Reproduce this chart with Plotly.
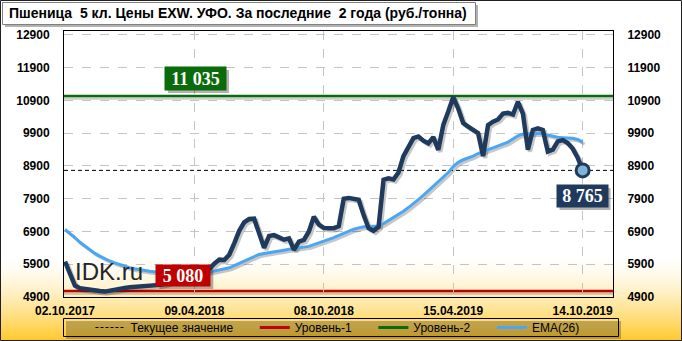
import plotly.graph_objects as go
import pandas as pd

# ---------------- data ----------------
# weekly quotes; the New-Year weeks (01.01.2018, 31.12.2018) are absent in the source
_all_weeks = pd.date_range("2017-10-02", "2019-10-14", freq="7D")
_missing = {pd.Timestamp("2018-01-01"), pd.Timestamp("2018-12-31")}
dates = [d.strftime("%d.%m.%Y") for d in _all_weeks if d not in _missing]

price = [
    5980, 5600, 5250, 5170, 5140, 5125, 5110, 5080, 5065, 5100,
    5135, 5160, 5175, 5195, 5205, 5215, 5228, 5240, 5255, 5270,
    5300, 5340, 5380, 5420, 5460, 5510, 5560, 5610, 5670, 5760,
    5920, 6040, 6030, 6190, 6540, 6920, 7180, 7280, 7290, 6860,
    6400, 6760, 6790, 6720, 6650, 6690, 6340, 6590, 6640, 6900,
    7350, 7110, 7010, 7000, 7000, 7060, 7900, 7925, 7905, 7870,
    7400, 7000, 6920, 7045, 8480, 8520, 8490, 8700, 9200, 9500,
    9750, 9800, 9670, 9590, 9780, 9390, 10150, 10560, 11000, 10650,
    10210, 10100, 9990, 9900, 9200, 10150, 10250, 10320, 10500, 10520,
    10470, 10860, 10500, 9400, 10000, 10050, 10000, 9340, 9400, 9650,
    9690, 9600, 9430, 9150, 8765,
]

ema26 = [
    6960, 6840, 6710, 6570, 6450, 6340, 6230, 6150, 6070, 6000,
    5940, 5885, 5835, 5795, 5760, 5730, 5705, 5685, 5670, 5660,
    5650, 5645, 5640, 5638, 5636, 5636, 5638, 5642, 5648, 5660,
    5690, 5720, 5740, 5790, 5860, 5930, 6010, 6080, 6150, 6200,
    6230, 6260, 6285, 6305, 6330, 6355, 6375, 6395, 6415, 6445,
    6500, 6560, 6615, 6660, 6710, 6780, 6850, 6910, 6970, 7010,
    7045, 7055, 7060, 7070, 7140, 7230, 7320, 7410, 7520, 7630,
    7740, 7870, 8000, 8140, 8280, 8400, 8540, 8700, 8880, 9010,
    9090, 9140, 9200, 9280, 9350, 9400, 9450, 9510, 9560, 9630,
    9720, 9820, 9875, 9885, 9895, 9900, 9880, 9840, 9800, 9775,
    9765, 9755, 9745, 9710, 9630,
]

x_tick_labels = ["02.10.2017", "09.04.2018", "08.10.2018", "15.04.2019", "14.10.2019"]
y_tick_values = [4900, 5900, 6900, 7900, 8900, 9900, 10900, 11900, 12900]
level_1 = 5080
level_2 = 11035
current_value = price[-1]

title_text = "Пшеница  5 кл. Цены EXW. УФО. За последние  2 года (руб./тонна)"
legend_names = ["Текущее значение", "Уровень-1", "Уровень-2", "EMA(26)"]

# ---------------- styling / geometry ----------------
W_FIG, H_FIG = 682, 341
L, R, T, B = 64, 613, 31, 297
PW, PH = R - L, B - T
Y_RANGE = [4900, 13020]
X_RANGE = [-0.2, 110.1]

NAVY = "#1F3A5C"
BLUE = "#4AA6F5"
GREEN = "#0A6B0A"
RED = "#C00000"
GRID = "#C4C4C4"
SHADOW = "rgba(0,0,0,0.22)"
FONT = "Liberation Sans"
SERIF = "Liberation Serif"
NBSP = "\u00a0"


def px(x):
    return (x - L) / PW


def py(y):
    return (B - y) / PH


def fmt(v):
    return f"{v:,}".replace(",", " ")


# shift of the shadow axes (2 px right, 2 px down)
units_per_px_x = (X_RANGE[1] - X_RANGE[0]) / PW
units_per_px_y = (Y_RANGE[1] - Y_RANGE[0]) / PH
sx = 2 * units_per_px_x
sy = 2 * units_per_px_y

fig = go.Figure()

# legend entries (base subplot x/y)
leg_styles = [
    dict(color="black", width=1, dash="3px,2px"),
    dict(color=RED, width=3),
    dict(color=GREEN, width=3),
    dict(color=BLUE, width=3),
]
for i, (name, st) in enumerate(zip(legend_names, leg_styles)):
    label = name + (NBSP * 5 if i < len(legend_names) - 1 else "")
    fig.add_trace(go.Scatter(x=[None], y=[None], mode="lines", name=label, line=st,
                             xaxis="x", yaxis="y", showlegend=True))
# right-hand axis carrier
fig.add_trace(go.Scatter(x=[None], y=[None], mode="lines", xaxis="x", yaxis="y2",
                         showlegend=False, hoverinfo="skip"))

# shadows
fig.add_trace(go.Scatter(x=dates, y=ema26, mode="lines", xaxis="x2", yaxis="y3",
                         line=dict(color=SHADOW, width=3), showlegend=False, hoverinfo="skip"))
fig.add_trace(go.Scatter(x=dates, y=price, mode="lines", xaxis="x2", yaxis="y3",
                         line=dict(color=SHADOW, width=4.5), showlegend=False, hoverinfo="skip"))
# real series
fig.add_trace(go.Scatter(x=dates, y=ema26, mode="lines", xaxis="x3", yaxis="y4",
                         line=dict(color=BLUE, width=3), showlegend=False))
fig.add_trace(go.Scatter(x=dates, y=price, mode="lines", xaxis="x3", yaxis="y4",
                         line=dict(color=NAVY, width=4.5, shape="linear"), showlegend=False))
fig.add_trace(go.Scatter(x=[dates[-1]], y=[price[-1]], mode="markers", xaxis="x3", yaxis="y4",
                         marker=dict(size=13, color="#7FB3DA", line=dict(color=NAVY, width=3)),
                         showlegend=False))

shapes = []
# background gradient (white -> golden) in the lower part
y_start, y_end = 255, H_FIG
for y in range(y_start, y_end):
    t = ((y - y_start) / (y_end - y_start)) ** 1.5
    g = round(255 - t * (255 - 200))
    b = round(255 - t * (255 - 41))
    shapes.append(dict(type="rect", xref="paper", yref="paper", layer="below",
                       x0=px(0), x1=px(W_FIG), y0=py(y + 1.05), y1=py(y),
                       fillcolor=f"rgb(255,{g},{b})", line=dict(width=0)))

# legend box + shadow
shapes.append(dict(type="rect", xref="paper", yref="paper", layer="below",
                   x0=px(66), x1=px(621), y0=py(339), y1=py(321),
                   fillcolor="rgba(0,0,0,0.25)", line=dict(width=0)))
shapes.append(dict(type="rect", xref="paper", yref="paper", layer="above",
                   x0=px(63.5), x1=px(618.5), y0=py(336.5), y1=py(318.5),
                   fillcolor="rgba(0,0,0,0)", line=dict(color="black", width=1)))

# level lines with shadows
for val, col, w in [(level_2, GREEN, 2.5), (level_1, RED, 2.5)]:
    shapes.append(dict(type="line", xref="x domain", yref="y", layer="below",
                       x0=0, x1=1, ysizemode="pixel", yanchor=val, y0=-2.5, y1=-2.5,
                       line=dict(color="rgba(0,0,0,0.2)", width=2.5)))
    shapes.append(dict(type="line", xref="x domain", yref="y", layer="below",
                       x0=0, x1=1, y0=val, y1=val, line=dict(color=col, width=w)))
shapes.append(dict(type="line", xref="x domain", yref="y", layer="below",
                   x0=0, x1=1, y0=current_value, y1=current_value,
                   line=dict(color="black", width=1, dash="4px,3px")))

# title box + shadow
shapes.append(dict(type="rect", xref="paper", yref="paper", layer="above",
                   x0=px(5), x1=px(478), y0=py(27), y1=py(5),
                   fillcolor="rgba(0,0,0,0.3)", line=dict(width=0)))
shapes.append(dict(type="rect", xref="paper", yref="paper", layer="above",
                   x0=px(2.5), x1=px(475.5), y0=py(24.5), y1=py(2.5),
                   fillcolor="white", line=dict(color="#808080", width=1)))

# outer frame
shapes.append(dict(type="rect", xref="paper", yref="paper", layer="above",
                   x0=px(0.5), x1=px(W_FIG - 0.5), y0=py(H_FIG - 0.5), y1=py(0.5),
                   fillcolor="rgba(0,0,0,0)", line=dict(color="#202020", width=1)))

annotations = [
    dict(text=title_text, xref="paper", yref="paper", x=px(7), y=py(13.5),
         xanchor="left", yanchor="middle", showarrow=False,
         font=dict(family=FONT, size=14, color="black", weight="bold")),
    dict(text="IDK.ru", xref="paper", yref="paper", x=px(109), y=py(271),
         xanchor="center", yanchor="middle", showarrow=False,
         font=dict(family=FONT, size=24, color="#262626")),
]

# value boxes: (text, colour, centre x px, centre y px, width px, height px)
boxes = [
    (fmt(level_2), GREEN, 195.5, 78.5, 61, 23),
    (fmt(level_1), RED, 183.3, 275.5, 54, 21),
    (fmt(current_value), NAVY, 582, 196, 51, 22),
]
for txt, col, cx, cy, w, h in boxes:
    shapes.append(dict(type="rect", xref="paper", yref="paper", layer="above",
                       x0=px(cx - w / 2 + 3), x1=px(cx + w / 2 + 3),
                       y0=py(cy + h / 2 + 3), y1=py(cy - h / 2 + 3),
                       fillcolor="rgba(0,0,0,0.3)", line=dict(width=0)))
    annotations.append(dict(text=txt, xref="paper", yref="paper", x=px(cx), y=py(cy),
                            xanchor="center", yanchor="middle", showarrow=False,
                            width=w - 4, height=h - 4, borderpad=2, bgcolor=col,
                            font=dict(family=SERIF, size=18, color="white", weight="bold")))

tickfont = dict(family=FONT, size=12, color="black", weight="bold")

fig.update_layout(
    width=W_FIG, height=H_FIG,
    margin=dict(l=L, r=W_FIG - R, t=T, b=H_FIG - B, autoexpand=False),
    paper_bgcolor="white", plot_bgcolor="rgba(0,0,0,0)",
    showlegend=True,
    legend=dict(orientation="h", x=px(337.5), xanchor="center", y=py(327.5), yanchor="middle",
                bgcolor="rgba(0,0,0,0)", borderwidth=0,
                font=dict(family=FONT, size=12, color="black"), itemwidth=30,
                traceorder="normal"),
    xaxis=dict(type="category", categoryorder="array", categoryarray=dates, range=X_RANGE,
               tickmode="array", tickvals=x_tick_labels, ticktext=x_tick_labels,
               showgrid=True, gridcolor=GRID, griddash="dash", gridwidth=1,
               showline=True, mirror=True, linecolor="black", linewidth=1,
               ticks="outside", ticklen=3, tickcolor="rgba(0,0,0,0)",
               tickfont=tickfont, zeroline=False, fixedrange=True),
    xaxis2=dict(type="category", categoryorder="array", categoryarray=dates, overlaying="x",
                range=[X_RANGE[0] - sx, X_RANGE[1] - sx], visible=False),
    xaxis3=dict(type="category", categoryorder="array", categoryarray=dates, overlaying="x",
                range=X_RANGE, visible=False),
    yaxis=dict(range=Y_RANGE, tickmode="array", tickvals=y_tick_values,
               ticktext=[str(v) for v in y_tick_values],
               showgrid=True, gridcolor=GRID, griddash="dash", gridwidth=1,
               showline=True, mirror=True, linecolor="black", linewidth=1,
               ticks="outside", ticklen=11, tickcolor="rgba(0,0,0,0)",
               tickfont=tickfont, zeroline=False),
    yaxis2=dict(range=Y_RANGE, overlaying="y", side="right", tickmode="array",
                tickvals=y_tick_values, ticktext=[str(v) for v in y_tick_values],
                showgrid=False, showline=False, zeroline=False,
                ticks="outside", ticklen=11, tickcolor="rgba(0,0,0,0)", tickfont=tickfont),
    yaxis3=dict(range=[Y_RANGE[0] + sy, Y_RANGE[1] + sy], overlaying="y", visible=False),
    yaxis4=dict(range=Y_RANGE, overlaying="y", visible=False),
    shapes=shapes,
    annotations=annotations,
)

fig.write_html("out.html")
